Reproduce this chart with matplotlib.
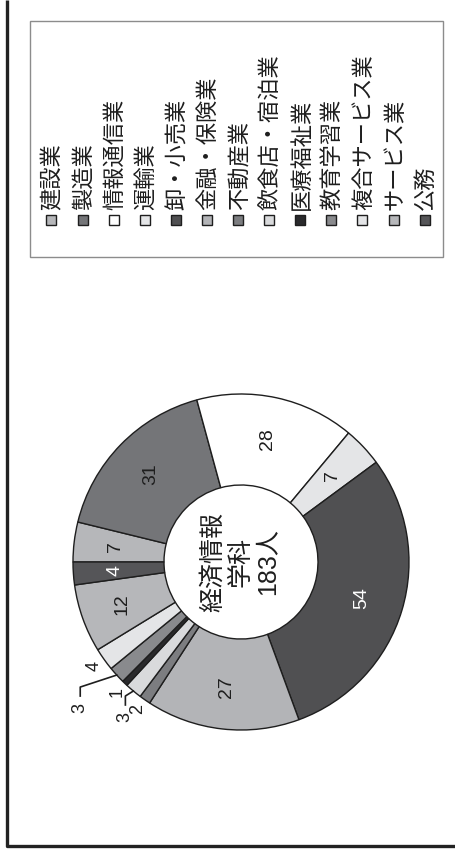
import matplotlib.pyplot as plt
from matplotlib.patches import Rectangle
import numpy as np

plt.rcParams['font.family'] = ['Noto Sans CJK JP', 'DejaVu Sans']

industries = ['建設業', '製造業', '情報通信業', '運輸業', '卸・小売業', '金融・保険業',
              '不動産業', '飲食店・宿泊業', '医療福祉業', '教育学習業', '複合サービス業',
              'サービス業', '公務']
counts = [7, 31, 28, 7, 54, 27, 2, 3, 1, 3, 4, 12, 4]
colors = ['#b6b7ba', '#747578', '#ffffff', '#e4e5e7', '#505052', '#b3b4b7',
          '#7c7d80', '#d9dadc', '#2a2a2c', '#898a8d', '#e4e5e7', '#b6b7ba', '#555558']
dept = '経済情報\n学科'

# labels drawn outside the ring, two of them with elbow leaders (offset in px)
outside = ['不動産業', '飲食店・宿泊業', '医療福祉業', '教育学習業', '複合サービス業']
leader = {'教育学習業': (-37, -33), '飲食店・宿泊業': (-8.5, -26)}

ink = '#1e1e1e'
num_font = ['Liberation Sans', 'Noto Sans CJK JP']
fig = plt.figure(figsize=(4.56, 8.49), dpi=100)
ax = fig.add_axes([0, 0, 1, 1])

# chart is laid out rotated 90 deg: pie starts at 12 o'clock of the upright page
cx, cy, R, r_in = 241, 287, 168, 77
wedges, _ = ax.pie(counts, colors=colors, startangle=180, counterclock=False,
                   center=(cx, cy), radius=R,
                   wedgeprops=dict(width=R - r_in, edgecolor=ink, linewidth=1.0))

for w, name, n, col in zip(wedges, industries, counts, colors):
    mid = np.deg2rad((w.theta1 + w.theta2) / 2)
    if name in leader:
        ox, oy = cx + R * np.cos(mid), cy + R * np.sin(mid)
        dx, dy = leader[name]
        lx, ly = ox + dx, oy + dy
        ax.plot([ox, lx + 0.5, lx + 0.5], [oy, ly + 21, ly + 12], color=ink, lw=1.2)
        ax.text(lx, ly, str(n), rotation=90, ha='center', va='center',
                fontsize=13, color=ink, family=num_font)
    elif name in outside:
        d = R * 1.07
        ax.text(cx + d * np.cos(mid), cy + d * np.sin(mid), str(n), rotation=90,
                ha='center', va='center', fontsize=13, color=ink, family=num_font)
    else:
        d = R * 0.75
        rgb = plt.matplotlib.colors.to_rgb(col)
        tc = 'white' if sum(rgb) / 3 < 0.45 else ink
        ax.text(cx + d * np.cos(mid), cy + d * np.sin(mid), str(n), rotation=90,
                ha='center', va='center', fontsize=14, color=tc, family=num_font)

ax.text(cx, cy, f'{dept}\n{sum(counts)}人', rotation=90, ha='center', va='center',
        multialignment='center', fontsize=18, linespacing=1.2, color=ink,
        family=num_font)

# legend, one rotated column per industry
ax.add_patch(Rectangle((30, 592), 413, 236, facecolor='none', edgecolor='#8c8c8c', lw=1))
for i, (name, col) in enumerate(zip(industries, colors)):
    x = 51.5 + 31.1 * i
    ax.add_patch(Rectangle((x - 5, 624.5), 10, 10, facecolor=col, edgecolor=ink, lw=1))
    ax.text(x + 1, 639, name, rotation=90, ha='center', va='bottom',
            fontsize=16, color=ink)

# page frame (only left and bottom edges are inside the crop)
ax.plot([7, 7, 456], [849, 3.5, 3.5], color='#222222', lw=2.4, solid_capstyle='butt')

ax.set_xlim(0, 456)
ax.set_ylim(0, 849)
ax.axis('off')

fig.savefig('out.png', dpi=100)
